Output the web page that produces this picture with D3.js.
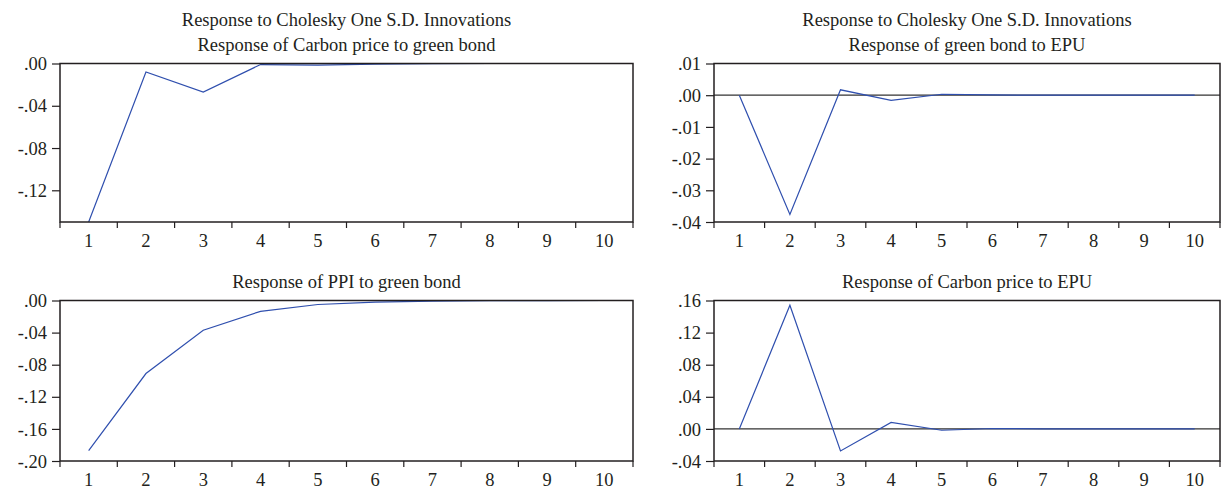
<!DOCTYPE html>
<html>
<head>
<meta charset="utf-8">
<script src="https://cdn.jsdelivr.net/npm/d3@7"></script>
<style>
  body { margin: 0; background: #fff; }
  svg text { font-family: "Liberation Serif", "DejaVu Serif", serif; fill: #231f20; }
</style>
</head>
<body>
<div class="wrap"></div>
<script>
// horizon periods
const periods = [1, 2, 3, 4, 5, 6, 7, 8, 9, 10]

// impulse responses
const carbonToGreenBond = [-0.150, -0.008, -0.027, -0.001, -0.0015, -0.0005, -0.0002, 0, 0, 0]
const greenBondToEPU = [0.0, -0.0376, 0.0017, -0.0016, 0.0003, 0.0001, 0, 0, 0, 0]
const ppiToGreenBond = [-0.187, -0.091, -0.037, -0.0135, -0.005, -0.002, -0.0008, -0.0003, -0.0001, 0]
const carbonToEPU = [0.0, 0.154, -0.0275, 0.008, -0.0017, 0.0005, 0, 0, 0, 0]

const panels = [
  { titles: ['Response to Cholesky One S.D. Innovations', 'Response of Carbon price to green bond'],
    values: carbonToGreenBond, domain: [-0.15, 0], ticks: [0, -0.04, -0.08, -0.12],
    x0: 60, x1: 633, y0: 63.5, y1: 222, zero: false },
  { titles: ['Response to Cholesky One S.D. Innovations', 'Response of green bond to EPU'],
    values: greenBondToEPU, domain: [-0.04, 0.01], ticks: [0.01, 0, -0.01, -0.02, -0.03, -0.04],
    x0: 714, x1: 1220, y0: 63.5, y1: 222, zero: true },
  { titles: ['Response of PPI to green bond'],
    values: ppiToGreenBond, domain: [-0.20, 0], ticks: [0, -0.04, -0.08, -0.12, -0.16, -0.20],
    x0: 60, x1: 633, y0: 300.5, y1: 461, zero: false },
  { titles: ['Response of Carbon price to EPU'],
    values: carbonToEPU, domain: [-0.04, 0.16], ticks: [0.16, 0.12, 0.08, 0.04, 0, -0.04],
    x0: 714, x1: 1220, y0: 300.5, y1: 461, zero: true }
]

const width = 1222, height = 490
const fs = 18.5

const svg = d3.select('.wrap')
  .append('svg')
  .attr('width', width)
  .attr('height', height)

// EViews style: ".04", "-.12"
const tickFmt = v => {
  let s = d3.format('.2f')(Math.abs(v) < 1e-9 ? 0 : v)
  return s.replace('\u2212', '-').replace(/^(-?)0\./, '$1.')
}

panels.forEach(p => {
  const g = svg.append('g')

  const x = d3.scaleBand()
    .domain(periods)
    .range([p.x0, p.x1])

  const y = d3.scaleLinear()
    .domain(p.domain)
    .range([p.y1, p.y0])

  // titles
  p.titles.forEach((t, i) => {
    g.append('text')
      .attr('x', (p.x0 + p.x1) / 2)
      .attr('y', p.y0 - 13 - (p.titles.length - 1 - i) * 25)
      .attr('text-anchor', 'middle')
      .attr('font-size', fs)
      .text(t)
  })

  // y axis
  const yAxis = g.append('g')
    .attr('transform', `translate(${p.x0},0)`)
    .call(d3.axisLeft(y).tickValues(p.ticks).tickFormat(tickFmt).tickSize(8).tickPadding(5))
  yAxis.select('.domain').remove()
  yAxis.selectAll('line').attr('stroke', '#231f20').attr('stroke-width', 1.2)
  yAxis.selectAll('text').attr('font-size', fs).attr('dy', '0.33em').attr('font-family', null)

  // x axis: ticks at band edges, labels centred
  const edges = periods.map(d => x(d)).concat([p.x1])
  g.selectAll('.xt')
    .data(edges)
    .enter()
    .append('line')
    .attr('x1', d => d).attr('x2', d => d)
    .attr('y1', p.y1).attr('y2', p.y1 + 6)
    .attr('stroke', '#231f20')
    .attr('stroke-width', 1.2)

  g.selectAll('.xl')
    .data(periods)
    .enter()
    .append('text')
    .attr('x', d => x(d) + x.bandwidth() / 2)
    .attr('y', p.y1 + 25)
    .attr('text-anchor', 'middle')
    .attr('font-size', fs)
    .text(d => d)

  // zero line
  if (p.zero) {
    g.append('line')
      .attr('x1', p.x0).attr('x2', p.x1)
      .attr('y1', y(0)).attr('y2', y(0))
      .attr('stroke', '#333')
      .attr('stroke-width', 1.2)
  }

  // response line
  const line = d3.line()
    .x((d, i) => x(periods[i]) + x.bandwidth() / 2)
    .y(d => y(d))

  g.append('path')
    .datum(p.values)
    .attr('d', line)
    .attr('fill', 'none')
    .attr('stroke', '#2f4fae')
    .attr('stroke-width', 1.2)

  // frame
  g.append('rect')
    .attr('x', p.x0).attr('y', p.y0)
    .attr('width', p.x1 - p.x0).attr('height', p.y1 - p.y0)
    .attr('fill', 'none')
    .attr('stroke', '#231f20')
    .attr('stroke-width', 1.5)
})
</script>
</body>
</html>
